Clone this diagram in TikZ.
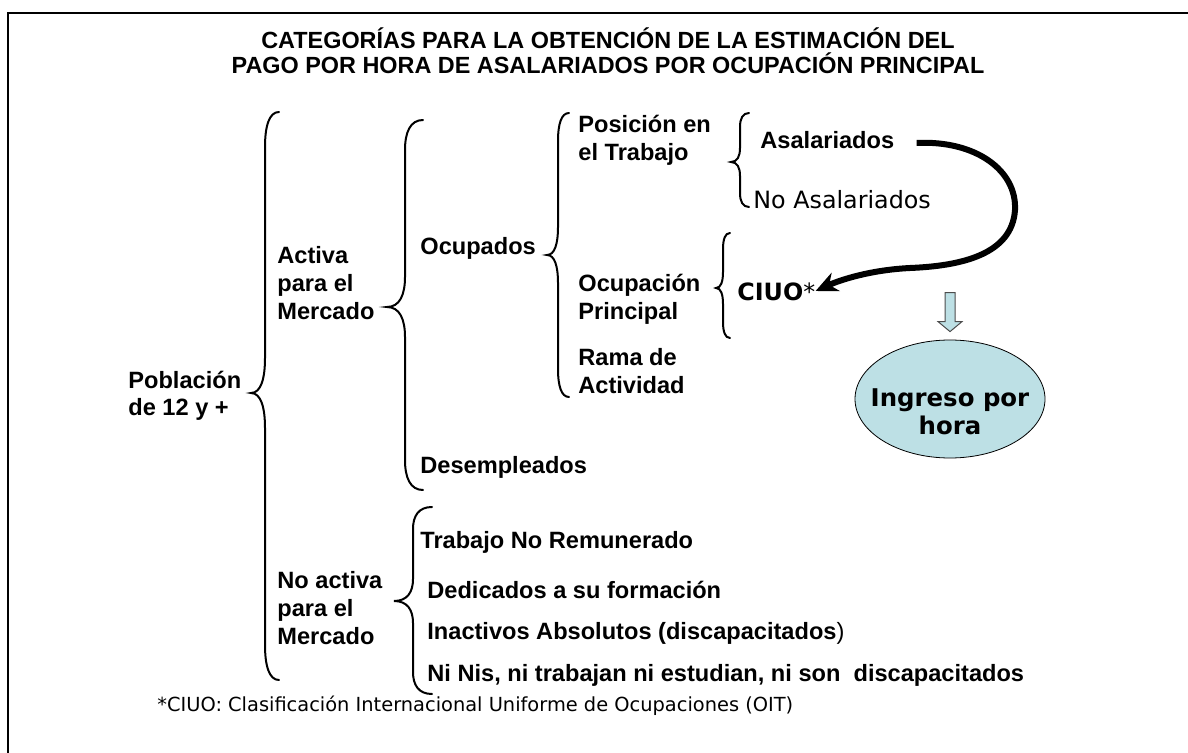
\documentclass[tikz,border=0pt]{standalone}
\usepackage{fontspec}
\setmainfont{Liberation Sans}
\newfontfamily\verdana{DejaVu Sans}
\usetikzlibrary{arrows.meta,shapes.geometric}

\definecolor{celeste}{RGB}{189,224,229}

% llave: x, arriba, punta, abajo, ancho, curva
\newcommand{\llave}[6]{%
  \draw[llavelinea] (#1+#5,#2) .. controls (#1+0.3*#5,#2) and (#1,#2+0.4*#6) .. (#1,#2+#6)
    -- (#1,#3-#6) .. controls (#1,#3-0.4*#6) and (#1-0.3*#5,#3) .. (#1-#5,#3)
    .. controls (#1-0.3*#5,#3) and (#1,#3+0.4*#6) .. (#1,#3+#6)
    -- (#1,#4-#6) .. controls (#1,#4-0.4*#6) and (#1+0.3*#5,#4) .. (#1+#5,#4);}

\tikzset{
  llavelinea/.style={line width=1pt, line cap=round},
  etiqueta/.style={anchor=west, inner sep=0pt, align=left,
    font=\fontsize{11.8}{14}\selectfont\bfseries},
  etiquetav/.style={anchor=west, inner sep=0pt, align=left,
    font=\verdana\fontsize{11.9}{14}\selectfont},
}

\begin{document}
\begin{tikzpicture}[x=0.5pt,y=-0.5pt]
    \useasboundingbox (0,0) rectangle (1188,753);
    \clip (0,0) rectangle (1188,753);

    % marco
    \draw[line width=1.2pt] (8,13) rectangle (1220,790);

    % titulo
    \node (titulo) at (608,51) [align=center, inner sep=0pt,
      font=\fontsize{11.7}{12.5}\selectfont\bfseries]
      {CATEGORÍAS PARA LA OBTENCIÓN DE LA ESTIMACIÓN DEL\\
       PAGO POR HORA DE ASALARIADOS POR OCUPACIÓN PRINCIPAL};

    % primer nivel
    \node[etiqueta, font=\fontsize{11.8}{13.5}\selectfont\bfseries] (pob) at (128,396) {Población\\de 12 y +};
    \llave{265}{112}{393}{680}{14}{35}

    % activa / no activa
    \node[etiqueta] (act) at (277,283) {Activa\\para el\\Mercado};
    \node[etiqueta] (noact) at (277,608) {No activa\\para el\\Mercado};
    \llave{405}{120}{307}{490}{18}{30}
    \llave{413}{507}{601}{694}{19}{22}

    % ocupados
    \node[etiqueta] (ocup) at (420,248) {Ocupados};
    \node[etiqueta] (desemp) at (420,467) {Desempleados};
    \llave{558}{113}{255}{397}{11}{28}

    \node[etiqueta] (pos) at (578,140) {Posición en\\el Trabajo};
    \node[etiqueta] (ocpr) at (578,299) {Ocupación\\Principal};
    \node[etiqueta] (rama) at (578,371) {Rama de\\Actividad};
    \llave{740}{113}{162}{207}{9}{14}
    \llave{723}{233}{288}{338}{7}{16}

    \node[etiqueta] (asal) at (760,140) {Asalariados};
    \node[etiquetav] (noasal) at (753,200) {No Asalariados};
    \node[etiquetav] (ciuo) at (737,292) {\textbf{CIUO}*};

    % no activa
    \node[etiqueta] (trab) at (420,542) {Trabajo No Remunerado};
    \node[etiqueta] (ded) at (427,590) {Dedicados a su formación};
    \node[etiqueta] (inac) at (427,633) {Inactivos Absolutos (discapacitados\textmd{)}};
    \node[etiqueta] (ninis) at (427,675) {Ni Nis, ni trabajan ni estudian, ni son\ \ discapacitados};

    % ingreso
    \node[ellipse, draw, fill=celeste, minimum width=95pt, minimum height=59pt, inner sep=0pt] (ing) at (950,399) {};
    \node[align=center, inner sep=0pt, font=\verdana\fontsize{12.2}{14}\selectfont\bfseries] (ingtxt) at (950,412) {Ingreso por\\hora};
    \draw[fill=celeste, draw=black!70, line width=0.5pt]
      ([shift={(-5,-47)}]ing.north) -- ([shift={(5,-47)}]ing.north)
      -- ([shift={(5,-18)}]ing.north) -- ([shift={(12,-18)}]ing.north)
      -- ([shift={(0,-8)}]ing.north) -- ([shift={(-12,-18)}]ing.north)
      -- ([shift={(-5,-18)}]ing.north) -- cycle;

    % flecha asalariados -> CIUO
    \draw[line width=3pt, -{Stealth[length=11pt, width=10pt]}]
      ([shift={(22,3)}]asal.east) .. controls (975,140) and (1017,170) .. (1015,210)
      .. controls (1012,255) and (960,266) .. (910,268)
      .. controls (870,270) and (840,280) .. ([shift={(0,-1)}]ciuo.east);

    % nota
    \node[etiquetav, font=\verdana\fontsize{9.7}{11}\selectfont] (nota) at (157,706)
      {*CIUO: Clasificación Internacional Uniforme de Ocupaciones (OIT)};
\end{tikzpicture}
\end{document}
